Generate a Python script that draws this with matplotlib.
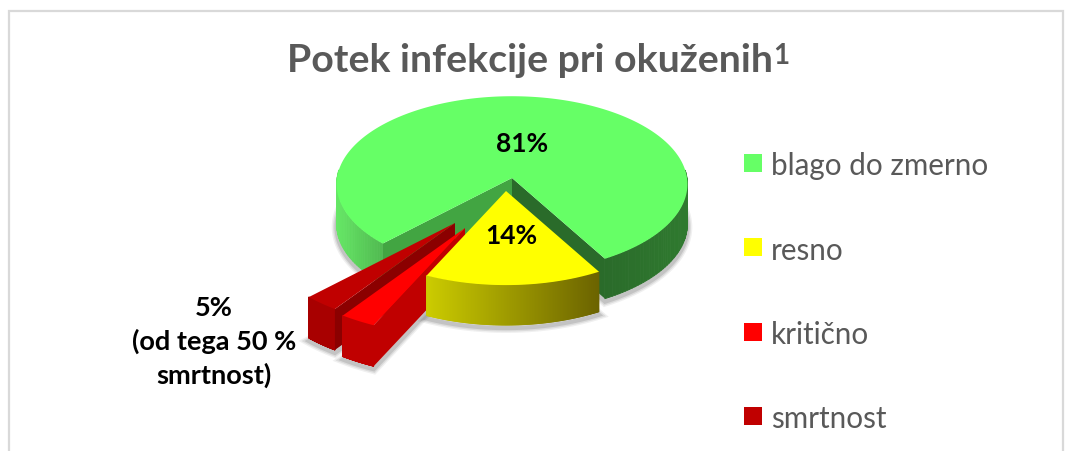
import numpy as np
import matplotlib
matplotlib.use("Agg")
import matplotlib.pyplot as plt
from matplotlib.collections import PolyCollection
from matplotlib.colors import to_rgb
from matplotlib.patches import Rectangle

plt.rcParams['font.family'] = ['Lato', 'DejaVu Sans']

# data
categories = ['blago do zmerno', 'resno', 'kritično', 'smrtnost']
values = [81, 14, 2.5, 2.5]
colors = ['#66FF66', '#FFFF00', '#FF0000', '#C00000']
title = 'Potek infekcije pri okuženih'
pct_labels = ['81%', '14%', '5%\n(od tega 50 %\nsmrtnost)']

# look of the fake 3d pie, all in pixels
cx, cy = 512, 179
rx, ry = 175, 87.5
persp = 0.07
warp = 5.5
first_angle = -131
depth = 40
offsets = [(0, 0), (-6, 13), (-47, 50), (-57, 45)]
scales = [1, 1.0, 1.15, 1.13]
wall_left = ['#66E866', '#CCCC00', '#C00000', '#A80000']
wall_right = ['#2A6A2A', '#6B6300', '#C00000', '#A80000']
cut_start = ['#42A542', None, '#C00000', '#8B0000']
cut_end = ['#2A6B2A', None, None, None]


def project(theta, scale=1):
    theta = np.asarray(theta, dtype=float)
    t = np.radians(theta + warp * np.sin(np.radians(theta + 90)))
    s = scale / (1 + persp * np.sin(t))
    return rx * s * np.cos(t), -ry * s * np.sin(t)


fig = plt.figure(figsize=(10.65, 4.52), dpi=100)
ax = fig.add_axes([0, 0, 1, 1])
ax.set_xlim(0, 1065)
ax.set_ylim(452, 0)
ax.axis('off')

ax.add_patch(Rectangle((9, 11.5), 1053.5, 460, fc='white', ec='#D9D9D9', lw=1.6))

# angles of each slice, going clockwise
edges = first_angle - np.concatenate([[0], np.cumsum(values)]) * 3.6


def wall_quad(a, b, d):
    return [a, b, (b[0], b[1] + d), (a[0], a[1] + d)]


def draw_slice(i):
    ox, oy = offsets[i]
    px, py = cx + ox, cy + oy
    th = np.linspace(edges[i], edges[i + 1], 240)
    dx, dy = project(th, scales[i])
    xs, ys = px + dx, py + dy
    d = depth if i < 2 else depth + 1

    # soft shadow of the bottom
    bottom = np.column_stack([np.r_[px, xs], np.r_[py, ys] + d + 3])
    for lw, al in [(7, 0.07), (5, 0.1), (3, 0.14)]:
        ax.fill(bottom[:, 0], bottom[:, 1], fc='none', ec='#303030', lw=lw, alpha=al, zorder=2)

    # curved outer wall
    front = np.sin(np.radians(th)) < 0
    quads, cols = [], []
    left, right = np.array(to_rgb(wall_left[i])), np.array(to_rgb(wall_right[i]))
    x0, x1 = xs[front].min(), xs[front].max()
    for j in range(len(th) - 1):
        if front[j] and front[j + 1]:
            quads.append(wall_quad((xs[j], ys[j]), (xs[j + 1], ys[j + 1]), d))
            if i == 0:
                # two separate visible parts on the green slice
                if xs[j] > px:
                    c = right + (np.array(to_rgb('#2F7A2F')) - right) * (xs[j] - 600) / 88
                else:
                    c = left + (np.array(to_rgb('#50B850')) - left) * (xs[j] - x0) / (385 - x0)
            else:
                c = left + (right - left) * (xs[j] - x0) / max(x1 - x0, 1)
            cols.append(np.clip(c, 0, 1))
    z = 3 + {0: 0, 3: 1, 2: 2, 1: 3}[i]
    ax.add_collection(PolyCollection(quads, facecolors=cols, edgecolors=cols, linewidths=0.6, zorder=z))

    # flat walls along the cuts
    if cut_start[i]:
        ax.fill(*zip(*wall_quad((px, py), (xs[0], ys[0]), d)), color=cut_start[i], lw=0, zorder=z)
    if cut_end[i]:
        ax.fill(*zip(*wall_quad((px, py), (xs[-1], ys[-1]), d)), color=cut_end[i], lw=0, zorder=z)

    # top face
    ax.fill(np.r_[px, xs], np.r_[py, ys], color=colors[i], lw=0, zorder=z + 0.5)


for i in range(len(values)):
    draw_slice(i)

ax.text(287, 72, title, fontsize=28.3, fontweight='bold', color='#595959', ha='left', va='baseline', zorder=10)
ax.text(773, 64, '1', fontsize=20, fontweight='bold', color='#595959', ha='left', va='baseline', zorder=10)

ax.text(522, 144, pct_labels[0], fontsize=19, fontweight='bold', color='black', ha='center', va='center', zorder=10)
ax.text(511, 236, pct_labels[1], fontsize=19, fontweight='bold', color='black', ha='center', va='center', zorder=10)
ax.text(214, 342, pct_labels[2], fontsize=19.5, fontweight='bold', color='black', ha='center', va='center',
        linespacing=1.4, zorder=10)

# legend
for i, (name, col) in enumerate(zip(categories, colors)):
    y = 164 + i * 84.3
    ax.add_patch(Rectangle((744, y - 9), 18, 18, fc=col, ec='none', zorder=10))
    ax.text(771, y, name, fontsize=21.3, color='#595959', ha='left', va='center_baseline', zorder=10)

fig.savefig('out.png', dpi=100)
